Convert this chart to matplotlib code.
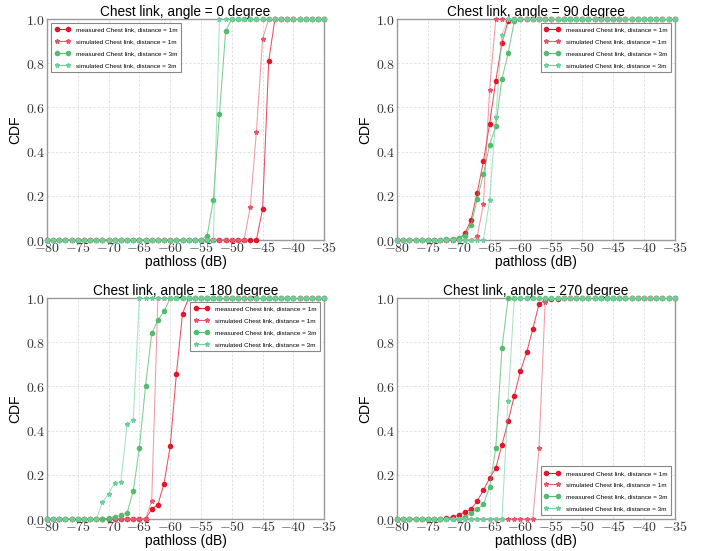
import numpy as np
import matplotlib
matplotlib.use("Agg")
import matplotlib.pyplot as plt
from matplotlib.ticker import FuncFormatter, MultipleLocator

# ---------------- data ----------------
x_db = list(range(-80, -34))  # -80 .. -35 dB

def cdf_from(points):
    """Build a full CDF list on x_db from the read-off transition points."""
    keys = sorted(points)
    out = []
    for v in x_db:
        if v in points:
            out.append(points[v])
        elif v < keys[0]:
            out.append(0.0)
        else:
            out.append(1.0)
    return out

# angle = 0 degree
a0_meas_1m = {-46: 0.0, -45: 0.14, -44: 0.81, -43: 1.0}
a0_sim_1m = {-48: 0.0, -47: 0.15, -46: 0.49, -45: 0.91, -44: 1.0}
a0_meas_3m = {-55: 0.0, -54: 0.02, -53: 0.18, -52: 0.57, -51: 0.945, -50: 1.0}
a0_sim_3m = {-53: 0.0, -52: 1.0}

# angle = 90 degree
a90_meas_1m = {-71: 0.0, -70: 0.005, -69: 0.03, -68: 0.09, -67: 0.215, -66: 0.356,
               -65: 0.525, -64: 0.72, -63: 0.893, -62: 0.99, -61: 1.0}
a90_sim_1m = {-68: 0.0, -67: 0.017, -66: 0.163, -65: 0.68, -64: 1.0}
a90_meas_3m = {-74: 0.0, -73: 0.002, -72: 0.004, -71: 0.006, -70: 0.01, -69: 0.02,
               -68: 0.07, -67: 0.185, -66: 0.298, -65: 0.43, -64: 0.515, -63: 0.73,
               -62: 0.845, -61: 0.99, -60: 1.0}
a90_sim_3m = {-66: 0.0, -65: 0.18, -64: 0.555, -63: 0.93, -62: 1.0}

# angle = 180 degree
a180_meas_1m = {-64: 0.0, -63: 0.045, -62: 0.065, -61: 0.16, -60: 0.33, -59: 0.655,
                -58: 0.93, -57: 1.0}
a180_sim_1m = {-64: 0.0, -63: 0.083, -62: 1.0}
a180_meas_3m = {-70: 0.003, -69: 0.01, -68: 0.017, -67: 0.027, -66: 0.127, -65: 0.323,
                -64: 0.603, -63: 0.84, -62: 0.9, -61: 0.94, -60: 1.0}
a180_sim_3m = {-72: 0.0, -71: 0.075, -70: 0.115, -69: 0.165, -68: 0.168, -67: 0.428,
               -66: 0.45, -65: 1.0}

# angle = 270 degree
a270_meas_1m = {-73: 0.0, -72: 0.003, -71: 0.009, -70: 0.018, -69: 0.032, -68: 0.045,
                -67: 0.081, -66: 0.131, -65: 0.184, -64: 0.231, -63: 0.336, -62: 0.442,
                -61: 0.558, -60: 0.67, -59: 0.754, -58: 0.86, -57: 0.973, -56: 0.99,
                -55: 0.995, -54: 0.998, -53: 1.0}
a270_sim_1m = {-58: 0.0, -57: 0.32, -56: 0.983, -55: 1.0}
a270_meas_3m = {-70: 0.0, -69: 0.008, -68: 0.027, -67: 0.045, -66: 0.066, -65: 0.145,
                -64: 0.321, -63: 0.772, -62: 1.0}
a270_sim_3m = {-63: 0.0, -62: 0.535, -61: 1.0}

angles = [0, 90, 180, 270]
series = {
    0: [a0_meas_1m, a0_sim_1m, a0_meas_3m, a0_sim_3m],
    90: [a90_meas_1m, a90_sim_1m, a90_meas_3m, a90_sim_3m],
    180: [a180_meas_1m, a180_sim_1m, a180_meas_3m, a180_sim_3m],
    270: [a270_meas_1m, a270_sim_1m, a270_meas_3m, a270_sim_3m],
}
labels = ["measured Chest link, distance = 1m",
          "simulated Chest link, distance = 1m",
          "measured Chest link, distance = 3m",
          "simulated Chest link, distance = 3m"]
legend_locs = {0: "upper left", 90: "upper right", 180: "upper right", 270: "lower right"}

# ---------------- style ----------------
plt.rcParams['mathtext.fontset'] = 'cm'
plt.rcParams['font.family'] = ['Liberation Sans', 'DejaVu Sans']

colors = ["#e3162e", "#e8566c", "#55bb6e", "#6ccf9c"]
markers = ["o", "*", "o", "*"]
msizes = [3.0, 3.3, 3.0, 3.3]
lalpha = [0.75, 0.6, 0.75, 0.6]

fig = plt.figure(figsize=(7.07, 5.51), dpi=100)
positions = {
    0: [0.0665, 0.5644, 0.392, 0.401],
    90: [0.5615, 0.5644, 0.393, 0.401],
    180: [0.0665, 0.058, 0.392, 0.401],
    270: [0.5615, 0.058, 0.393, 0.401],
}

fmt = FuncFormatter(lambda v, p: r"$%d$" % round(v))
yfmt = FuncFormatter(lambda v, p: r"$%.1f$" % v)

for ang in angles:
    ax = fig.add_axes(positions[ang])
    for i, d in enumerate(series[ang]):
        y = cdf_from(d)
        ax.plot(x_db, y, color=colors[i], lw=0.75, alpha=lalpha[i], zorder=2 + i)
        ax.plot(x_db, y, linestyle="none", marker=markers[i], ms=msizes[i],
                color=colors[i], mec=colors[i], zorder=3 + i, clip_on=False)
    # legend proxies
    handles = []
    for i in range(4):
        h, = ax.plot([], [], color=colors[i], lw=0.75, marker=markers[i], ms=msizes[i],
                     mec=colors[i])
        handles.append(h)
    leg = ax.legend(handles, labels, loc=legend_locs[ang], prop={'size': 4.6},
                    numpoints=2, handlelength=2.4, fancybox=False, framealpha=1,
                    borderaxespad=0.6, labelspacing=1.0, handletextpad=0.9,
                    borderpad=0.6)
    leg.get_frame().set_edgecolor("#888888")
    leg.get_frame().set_linewidth(0.8)

    ax.set_xlim(-80, -35)
    ax.set_ylim(0, 1)
    ax.xaxis.set_major_locator(MultipleLocator(5))
    ax.yaxis.set_major_locator(MultipleLocator(0.2))
    ax.xaxis.set_major_formatter(fmt)
    ax.yaxis.set_major_formatter(yfmt)
    ax.tick_params(length=0, labelsize=10, pad=1, colors="#333333")
    ax.grid(True, color="#dddddd", lw=0.6, linestyle=(0, (3, 2)))
    ax.set_axisbelow(True)
    for s in ax.spines.values():
        s.set_color("#999999")
        s.set_linewidth(1.0)
    ax.set_title("Chest link, angle = %d degree" % ang, fontsize=9.8, pad=1)
    ax.set_xlabel("pathloss (dB)", fontsize=10, labelpad=0)
    ax.set_ylabel("CDF", fontsize=10, labelpad=3)

fig.savefig("out.png", dpi=100)
